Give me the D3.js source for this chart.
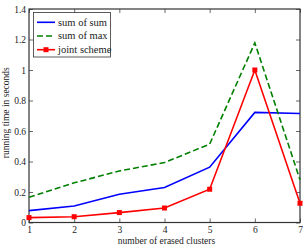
<!DOCTYPE html>
<meta charset="utf-8">
<style>
body { margin: 0; background: #fff; }
text { font-family: "Liberation Serif", "DejaVu Serif", serif; fill: #222; }
.frame { fill: none; stroke: #333; stroke-width: 1.2px; }
.line { fill: none; stroke-width: 1.6px; }
</style>
<body>
<svg width="307" height="246"></svg>
<script src="https://cdn.jsdelivr.net/npm/d3@7"></script>
<script>

var clusters = [1, 2, 3, 4, 5, 6, 7];
var sumOfSum = [0.078, 0.108, 0.185, 0.23, 0.363, 0.722, 0.715];
var sumOfMax = [0.165, 0.26, 0.338, 0.393, 0.514, 1.178, 0.28];
var jointScheme = [0.032, 0.038, 0.065, 0.095, 0.218, 1.0, 0.126];
var yTicks = [0, 0.2, 0.4, 0.6, 0.8, 1, 1.2, 1.4];

var series = [
  {name: "sum of sum", values: sumOfSum, color: "#0000ff", dash: null, marker: false},
  {name: "sum of max", values: sumOfMax, color: "#007f00", dash: "6,3", marker: false},
  {name: "joint scheme", values: jointScheme, color: "#ff0000", dash: null, marker: true}
];

var svg = d3.select("svg"),
    mLeft = 29, mRight = 300, mTop = 9, mBottom = 222.5;

var x = d3.scaleLinear().domain([1, 7]).range([mLeft, mRight]);
var y = d3.scaleLinear().domain([0, 1.4]).range([mBottom, mTop]);

// axes with inward ticks, mirrored on top/right
svg.append("g").attr("transform", "translate(0," + mBottom + ")")
  .call(d3.axisBottom(x).tickValues(clusters).tickSize(-4).tickPadding(4).tickFormat(d3.format("d")));
svg.append("g").attr("transform", "translate(0," + mTop + ")")
  .call(d3.axisTop(x).tickValues(clusters).tickSize(-4).tickFormat(""));
svg.append("g").attr("transform", "translate(" + mLeft + ",0)")
  .call(d3.axisLeft(y).tickValues(yTicks).tickSize(-4).tickPadding(3).tickFormat(d3.format("")));
svg.append("g").attr("transform", "translate(" + mRight + ",0)")
  .call(d3.axisRight(y).tickValues(yTicks).tickSize(-4).tickFormat(""));

svg.selectAll(".domain").remove();
svg.selectAll(".tick line").attr("stroke", "#444").attr("stroke-width", 0.8);
svg.selectAll(".tick text").attr("font-size", 9.5).attr("fill", "#222")
  .attr("font-family", "Liberation Serif, serif");

svg.append("rect").attr("class", "frame")
  .attr("x", mLeft).attr("y", mTop).attr("width", mRight - mLeft).attr("height", mBottom - mTop);

var line = d3.line().x((d, i) => x(clusters[i])).y(d => y(d));

series.forEach(function(s) {
  svg.append("path").attr("class", "line")
    .attr("d", line(s.values))
    .attr("stroke", s.color)
    .attr("stroke-dasharray", s.dash);
  if (s.marker) {
    svg.selectAll(null).data(s.values).enter().append("rect")
      .attr("x", (d, i) => x(clusters[i]) - 2.5)
      .attr("y", d => y(d) - 2.5)
      .attr("width", 5).attr("height", 5)
      .attr("fill", s.color);
  }
});

// legend
var lg = svg.append("g");
lg.append("rect").attr("x", 33.5).attr("y", 12.5).attr("width", 77).attr("height", 44.5)
  .attr("fill", "#fff").attr("stroke", "#333").attr("stroke-width", 0.8);
series.forEach(function(s, i) {
  var ly = 22.3 + i * 13.7;
  lg.append("line").attr("x1", 37).attr("x2", 55).attr("y1", ly).attr("y2", ly)
    .attr("stroke", s.color).attr("stroke-width", 1.6).attr("stroke-dasharray", s.dash);
  if (s.marker) {
    lg.append("rect").attr("x", 43.5).attr("y", ly - 2.5).attr("width", 5).attr("height", 5).attr("fill", s.color);
  }
  lg.append("text").attr("x", 58).attr("y", ly + 3.3).attr("font-size", 10.5).text(s.name);
});

svg.append("text").attr("x", (mLeft + mRight) / 2 + 2).attr("y", 243.5)
  .attr("text-anchor", "middle").attr("font-size", 9.5).text("number of erased clusters");
svg.append("text").attr("transform", "translate(9," + ((mTop + mBottom) / 2 - 3) + ") rotate(-90)")
  .attr("text-anchor", "middle").attr("font-size", 9.5).text("running time in seconds");

</script>
</body>
